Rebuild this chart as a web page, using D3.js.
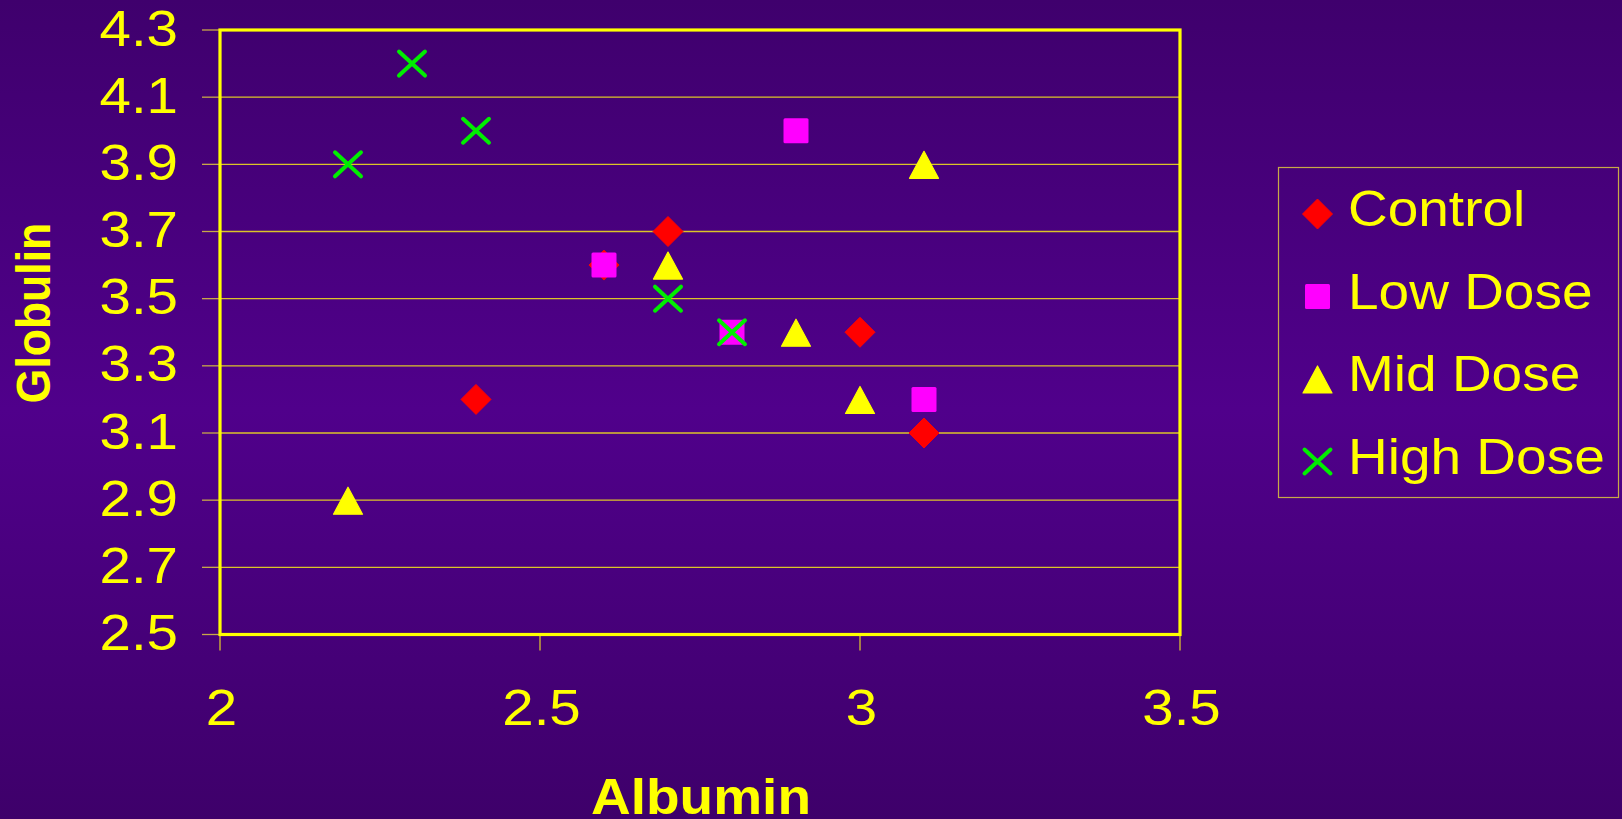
<!DOCTYPE html>
<html>
<head>
<meta charset="utf-8">
<script src="https://cdn.jsdelivr.net/npm/d3@7"></script>
<style>
  html, body { margin: 0; padding: 0; background: #45007a; }
  svg { display: block; }
  text { font-family: "Liberation Sans", Arial, sans-serif; fill: #ffff00; }
</style>
</head>
<body>
<svg id="chart" width="1622" height="819"></svg>
<script>
// Albumin vs. globulin by treatment group
const seriesNames = ["Control", "Low Dose", "Mid Dose", "High Dose"];
const controlX = [2.6, 2.7, 2.4, 3.0, 3.1];
const controlY = [3.6, 3.7, 3.2, 3.4, 3.1];
const lowX = [2.6, 2.8, 2.9, 3.1];
const lowY = [3.6, 3.4, 4.0, 3.2];
const midX = [2.2, 2.7, 2.9, 3.0, 3.1];
const midY = [2.9, 3.6, 3.4, 3.2, 3.9];
const highX = [2.2, 2.3, 2.4, 2.7, 2.8];
const highY = [3.9, 4.2, 4.0, 3.5, 3.4];
const xTicks = [2, 2.5, 3, 3.5];
const yTicks = [2.5, 2.7, 2.9, 3.1, 3.3, 3.5, 3.7, 3.9, 4.1, 4.3];

const W = 1622, H = 819;
const SX = 1.1;      // horizontal stretch of lettering
const SX_TICK = 1.13;
const svg = d3.select("#chart");

// background: purple vertical gradient
const defs = svg.append("defs");
const grad = defs.append("linearGradient").attr("id", "bg").attr("x1", 0).attr("y1", 0).attr("x2", 0).attr("y2", 1);
grad.append("stop").attr("offset", "0%").attr("stop-color", "#3f006d");
grad.append("stop").attr("offset", "50%").attr("stop-color", "#50008b");
grad.append("stop").attr("offset", "100%").attr("stop-color", "#3e006a");
svg.append("rect").attr("width", W).attr("height", H).attr("fill", "url(#bg)");

const x = d3.scaleLinear().domain([2, 3.5]).range([220, 1180]);
const y = d3.scaleLinear().domain([2.5, 4.3]).range([634.5, 30]);

// gridlines
svg.append("g").selectAll("line")
  .data(yTicks.filter(v => v > 2.5 && v < 4.3))
  .join("line")
  .attr("x1", x(2)).attr("x2", x(3.5))
  .attr("y1", d => y(d)).attr("y2", d => y(d))
  .attr("stroke", "#dcc428").attr("stroke-width", 1.3);

// tick marks
svg.append("g").selectAll("line")
  .data(yTicks).join("line")
  .attr("x1", x(2) - 18).attr("x2", x(2))
  .attr("y1", d => y(d)).attr("y2", d => y(d))
  .attr("stroke", "#c8a848").attr("stroke-width", 1.3);
svg.append("g").selectAll("line")
  .data(xTicks).join("line")
  .attr("x1", d => x(d)).attr("x2", d => x(d))
  .attr("y1", y(2.5)).attr("y2", y(2.5) + 16)
  .attr("stroke", "#d8c030").attr("stroke-width", 1.3);

// plot frame
svg.append("rect")
  .attr("x", x(2)).attr("y", y(4.3))
  .attr("width", x(3.5) - x(2)).attr("height", y(2.5) - y(4.3))
  .attr("fill", "none").attr("stroke", "#ffff00").attr("stroke-width", 3.2);

// tick labels
const fmt = d3.format(".1f");
svg.append("g").selectAll("g")
  .data(yTicks).join("g")
  .attr("transform", d => `translate(178,${y(d) + 15.5}) scale(${SX_TICK},1)`)
  .append("text")
  .attr("text-anchor", "end").attr("font-size", 50)
  .text(d => fmt(d));
svg.append("g").selectAll("g")
  .data(xTicks).join("g")
  .attr("transform", d => `translate(${x(d) + 1.5},725) scale(${SX_TICK},1)`)
  .append("text")
  .attr("text-anchor", "middle").attr("font-size", 50)
  .text(d => d3.format("")(d));

// axis titles
svg.append("g").attr("transform", `translate(701,814) scale(${SX},1)`)
  .append("text").attr("text-anchor", "middle").attr("font-size", 50).attr("font-weight", "bold")
  .text("Albumin");
svg.append("g").attr("transform", `translate(50,313) scale(${SX},1) rotate(-90)`)
  .append("text").attr("text-anchor", "middle").attr("font-size", 44.5).attr("font-weight", "bold")
  .text("Globulin");

// marker shapes
function drawMarker(g, kind) {
  if (kind === 0) {
    g.append("path").attr("d", "M0,-15 L15,0 L0,15 L-15,0 Z")
      .attr("fill", "#ff0000").attr("stroke", "#ff0000").attr("stroke-width", 1).attr("stroke-linejoin", "round");
  } else if (kind === 1) {
    g.append("rect").attr("x", -12.5).attr("y", -12.5).attr("width", 25).attr("height", 25).attr("rx", 1.5)
      .attr("fill", "#ff00ff");
  } else if (kind === 2) {
    g.append("path").attr("d", "M0,-13 L14.5,14 L-14.5,14 Z")
      .attr("fill", "#ffff00").attr("stroke", "#ffff00").attr("stroke-width", 1.2).attr("stroke-linejoin", "round");
  } else {
    g.append("path").attr("d", "M-13,-12 L13,12 M-13,12 L13,-12")
      .attr("fill", "none").attr("stroke", "#00ee00").attr("stroke-width", 4).attr("stroke-linecap", "round");
  }
}

const series = [
  { xs: controlX, ys: controlY },
  { xs: lowX, ys: lowY },
  { xs: midX, ys: midY },
  { xs: highX, ys: highY }
];
series.forEach((s, k) => {
  const pts = s.xs.map((v, i) => [v, s.ys[i]]);
  svg.append("g").selectAll("g")
    .data(pts).join("g")
    .attr("transform", d => `translate(${x(d[0])},${y(d[1])})`)
    .each(function () { drawMarker(d3.select(this), k); });
});

// legend
const legend = svg.append("g");
legend.append("rect")
  .attr("x", 1278.5).attr("y", 167.5).attr("width", 340).attr("height", 330)
  .attr("fill", "none").attr("stroke", "#c8a848").attr("stroke-width", 1.2);
seriesNames.forEach((name, i) => {
  const cy = 214 + i * 82.5;
  const mg = legend.append("g").attr("transform", `translate(1317.5,${cy})`);
  drawMarker(mg, i);
  legend.append("g").attr("transform", `translate(1348,${cy + 12}) scale(${SX},1)`)
    .append("text").attr("font-size", 50).text(name);
});
</script>
</body>
</html>
